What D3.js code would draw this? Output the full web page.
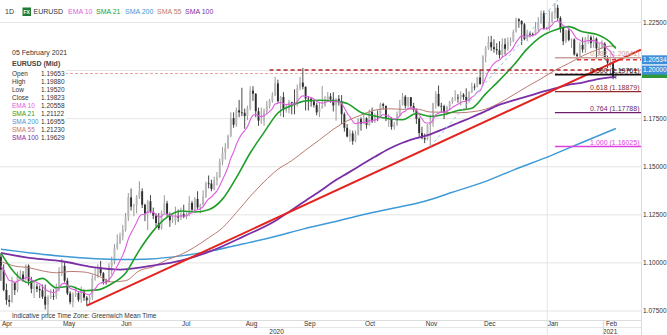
<!DOCTYPE html>
<html><head><meta charset="utf-8">
<script src="https://cdn.jsdelivr.net/npm/d3@7"></script>
<style>
html,body{margin:0;padding:0;background:#fff;}
svg{display:block;font-family:"Liberation Sans",Arial,sans-serif;}
</style>
</head><body>
<svg id="chart" width="667" height="335"></svg>
<script>
// ---------- DATA (EURUSD daily) ----------
const firstDay = "2020-04-01", lastDay = "2021-02-05";
const opens = [
1.1030,1.0962,1.0857,1.0805,1.0795,1.0893,1.0856,1.0935,1.0937,1.0913,1.0983,1.0904,1.0863,1.0875,1.0862,1.0855,1.0822,1.0780,1.0819,1.0826,1.0823,1.0873,
1.0954,1.0982,1.0905,1.0839,1.0794,1.0833,1.0840,1.0806,1.0848,1.0817,1.0803,1.0819,1.0920,1.0923,1.0975,1.0944,1.0901,1.0899,1.0981,1.1003,1.1076,
1.1100,1.1135,1.1170,1.1237,1.1338,1.1290,1.1296,1.1341,1.1370,1.1300,1.1255,1.1318,1.1263,1.1243,1.1205,1.1178,1.1258,1.1307,1.1250,1.1219,1.1220,1.1241,
1.1233,1.1251,1.1239,1.1246,1.1309,1.1274,1.1330,1.1286,1.1300,1.1343,1.1411,1.1410,1.1382,1.1428,1.1442,1.1524,1.1571,1.1596,1.1657,1.1750,1.1716,1.1791,1.1780,
1.1778,1.1761,1.1801,1.1893,1.1877,1.1786,1.1737,1.1737,1.1786,1.1813,1.1842,1.1869,1.1931,1.1838,1.1860,1.1795,1.1795,1.1833,1.1831,1.1819,1.1906,
1.1935,1.1913,1.1852,1.1851,1.1837,1.1818,1.1780,1.1802,1.1813,1.1846,1.1863,1.1847,1.1816,1.1850,1.1839,1.1771,1.1700,1.1655,1.1671,1.1631,1.1665,1.1745,
1.1720,1.1749,1.1715,1.1783,1.1734,1.1761,1.1759,1.1823,1.1814,1.1745,1.1746,1.1705,1.1717,1.1769,1.1820,1.1862,1.1815,1.1859,1.1813,1.1794,1.1747,1.1673,
1.1646,1.1640,1.1715,1.1723,1.1826,1.1876,1.1814,1.1812,1.1777,1.1809,1.1834,1.1853,1.1857,1.1855,1.1872,1.1860,1.1842,1.1886,1.1914,1.1913,1.1962,
1.1927,1.2071,1.2113,1.2145,1.2119,1.2109,1.2103,1.2079,1.2134,1.2111,1.2146,1.2152,1.2199,1.2264,1.2255,1.2238,1.2161,1.2189,1.2187,1.2183,1.2214,1.2248,1.2296,
1.2215,1.2215,1.2251,1.2297,1.2324,1.2271,1.2219,1.2150,1.2206,1.2157,1.2159,1.2081,1.2073,1.2131,1.2107,1.2164,1.2171,1.2140,1.2163,1.2113,1.2120,
1.2137,1.2060,1.2038,1.2038,1.19653];
const highs = [
1.1047,1.0990,1.0890,1.0830,1.0925,1.0900,1.0952,1.0960,1.0955,1.0990,1.0990,1.0925,1.0900,1.0890,1.0880,1.0885,1.0885,1.0830,1.0860,1.0860,1.0890,1.0975,
1.1019,1.1000,1.0920,1.0850,1.0845,1.0875,1.0850,1.0875,1.0860,1.0825,1.0830,1.0935,1.0975,1.0990,1.1008,1.0950,1.0915,1.0995,1.1030,1.1095,1.1146,
1.1155,1.1195,1.1257,1.1361,1.1384,1.1305,1.1350,1.1422,1.1385,1.1305,1.1325,1.1350,1.1285,1.1255,1.1257,1.1270,1.1349,1.1320,1.1260,1.1245,1.1290,1.1275,
1.1285,1.1300,1.1260,1.1345,1.1320,1.1340,1.1370,1.1305,1.1375,1.1420,1.1452,1.1430,1.1445,1.1470,1.1540,1.1600,1.1620,1.1665,1.1780,1.1780,1.1805,1.1845,1.1908,
1.1800,1.1815,1.1915,1.1916,1.1880,1.1805,1.1805,1.1800,1.1840,1.1850,1.1885,1.1965,1.1950,1.1865,1.1885,1.1820,1.1845,1.1835,1.1900,1.1925,1.1965,
1.2011,1.1915,1.1865,1.1860,1.1845,1.1830,1.1830,1.1917,1.1865,1.1885,1.1880,1.1885,1.1855,1.1870,1.1870,1.1780,1.1720,1.1690,1.1685,1.1685,1.1750,1.1755,
1.1770,1.1755,1.1795,1.1805,1.1775,1.1790,1.1830,1.1830,1.1815,1.1770,1.1755,1.1730,1.1785,1.1845,1.1881,1.1870,1.1860,1.1860,1.1830,1.1800,1.1755,1.1705,
1.1670,1.1720,1.1770,1.1830,1.1890,1.1920,1.1830,1.1820,1.1815,1.1840,1.1860,1.1895,1.1875,1.1890,1.1880,1.1905,1.1890,1.1935,1.1930,1.1965,1.2003,
1.2077,1.2125,1.2176,1.2178,1.2160,1.2140,1.2150,1.2165,1.2165,1.2170,1.2170,1.2210,1.2273,1.2270,1.2260,1.2245,1.2210,1.2200,1.2195,1.2250,1.2275,1.2310,1.2310,
1.2225,1.2310,1.2305,1.2349,1.2340,1.2280,1.2225,1.2210,1.2220,1.2165,1.2165,1.2090,1.2145,1.2170,1.2172,1.2185,1.2180,1.2180,1.2170,1.2140,1.2155,
1.2145,1.2075,1.2060,1.2045,1.1988];
const lows = [
1.0904,1.0850,1.0780,1.0769,1.0790,1.0830,1.0845,1.0915,1.0900,1.0905,1.0880,1.0840,1.0815,1.0845,1.0815,1.0810,1.0755,1.0727,1.0810,1.0805,1.0810,1.0850,
1.0930,1.0895,1.0830,1.0782,1.0767,1.0820,1.0795,1.0790,1.0800,1.0775,1.0780,1.0805,1.0905,1.0920,1.0930,1.0885,1.0885,1.0895,1.0935,1.0990,1.1065,
1.1095,1.1115,1.1160,1.1215,1.1270,1.1240,1.1255,1.1330,1.1283,1.1215,1.1168,1.1255,1.1225,1.1185,1.1168,1.1170,1.1255,1.1235,1.1185,1.1205,1.1195,1.1210,
1.1220,1.1230,1.1225,1.1240,1.1260,1.1265,1.1275,1.1255,1.1295,1.1335,1.1385,1.1370,1.1375,1.1400,1.1440,1.1505,1.1535,1.1590,1.1650,1.1700,1.1705,1.1755,1.1760,
1.1695,1.1740,1.1790,1.1840,1.1755,1.1710,1.1720,1.1710,1.1770,1.1800,1.1830,1.1865,1.1830,1.1760,1.1755,1.1780,1.1775,1.1770,1.1770,1.1810,1.1895,
1.1900,1.1790,1.1790,1.1810,1.1805,1.1765,1.1755,1.1800,1.1810,1.1835,1.1830,1.1785,1.1737,1.1815,1.1720,1.1680,1.1650,1.1627,1.1612,1.1625,1.1660,1.1685,
1.1720,1.1695,1.1710,1.1725,1.1725,1.1735,1.1755,1.1795,1.1735,1.1705,1.1690,1.1690,1.1710,1.1760,1.1815,1.1800,1.1805,1.1800,1.1780,1.1720,1.1650,1.1640,
1.1620,1.1635,1.1603,1.1705,1.1800,1.1810,1.1780,1.1745,1.1765,1.1795,1.1825,1.1840,1.1830,1.1815,1.1845,1.1800,1.1830,1.1880,1.1895,1.1910,1.1925,
1.1925,1.2040,1.2105,1.2100,1.2090,1.2080,1.2060,1.2065,1.2080,1.2100,1.2125,1.2145,1.2195,1.2220,1.2130,1.2155,1.2150,1.2170,1.2175,1.2180,1.2200,1.2240,1.2210,
1.2210,1.2205,1.2245,1.2265,1.2255,1.2195,1.2130,1.2140,1.2150,1.2115,1.2075,1.2055,1.2065,1.2090,1.2090,1.2135,1.2115,1.2115,1.2060,1.2080,1.2110,
1.2055,1.2010,1.2015,1.1952,1.1952];
const closes = [
1.0962,1.0857,1.0805,1.0795,1.0893,1.0856,1.0935,1.0937,1.0913,1.0983,1.0904,1.0863,1.0875,1.0862,1.0855,1.0822,1.0780,1.0819,1.0826,1.0823,1.0873,1.0954,
1.0982,1.0905,1.0839,1.0794,1.0833,1.0840,1.0806,1.0848,1.0817,1.0803,1.0819,1.0920,1.0923,1.0975,1.0944,1.0901,1.0899,1.0981,1.1003,1.1076,1.1100,
1.1135,1.1170,1.1237,1.1338,1.1290,1.1296,1.1341,1.1370,1.1300,1.1255,1.1318,1.1263,1.1243,1.1205,1.1178,1.1258,1.1307,1.1250,1.1219,1.1220,1.1241,1.1233,
1.1251,1.1239,1.1246,1.1309,1.1274,1.1330,1.1286,1.1300,1.1343,1.1411,1.1410,1.1382,1.1428,1.1442,1.1524,1.1571,1.1596,1.1657,1.1750,1.1716,1.1791,1.1780,1.1778,
1.1761,1.1801,1.1893,1.1877,1.1786,1.1737,1.1737,1.1786,1.1813,1.1842,1.1869,1.1931,1.1838,1.1860,1.1795,1.1795,1.1833,1.1831,1.1819,1.1906,1.1935,
1.1913,1.1852,1.1851,1.1837,1.1818,1.1780,1.1802,1.1813,1.1846,1.1863,1.1847,1.1816,1.1850,1.1839,1.1771,1.1700,1.1655,1.1671,1.1631,1.1665,1.1745,1.1720,
1.1749,1.1715,1.1783,1.1734,1.1761,1.1759,1.1823,1.1814,1.1745,1.1746,1.1705,1.1717,1.1769,1.1820,1.1862,1.1815,1.1859,1.1813,1.1794,1.1747,1.1673,1.1646,
1.1640,1.1715,1.1723,1.1826,1.1876,1.1814,1.1812,1.1777,1.1809,1.1834,1.1853,1.1857,1.1855,1.1872,1.1860,1.1842,1.1886,1.1914,1.1913,1.1962,1.1927,
1.2071,1.2113,1.2145,1.2119,1.2109,1.2103,1.2079,1.2134,1.2111,1.2146,1.2152,1.2199,1.2264,1.2255,1.2238,1.2161,1.2189,1.2187,1.2183,1.2214,1.2248,1.2296,1.2215,
1.2215,1.2251,1.2297,1.2324,1.2271,1.2219,1.2150,1.2206,1.2157,1.2159,1.2081,1.2073,1.2131,1.2107,1.2164,1.2171,1.2140,1.2163,1.2113,1.2120,1.2137,
1.2060,1.2038,1.2038,1.1964,1.19823];

// indicator lines: [trading-day index, value]
const ema10 = [1.0982,1.0959,1.0931,1.0906,1.0904,1.0895,1.0902,1.0909,1.0910,1.0923,1.0920,1.0909,1.0903,1.0896,1.0888,1.0876,1.0859,1.0851,1.0847,1.0843,1.0848,1.0867,
1.0888,1.0891,1.0882,1.0866,1.0860,1.0856,1.0847,1.0847,1.0842,1.0835,1.0832,1.0848,1.0862,1.0882,1.0893,1.0895,1.0896,1.0911,1.0928,1.0955,1.0981,
1.1009,1.1038,1.1075,1.1122,1.1153,1.1179,1.1208,1.1238,1.1249,1.1250,1.1263,1.1263,1.1259,1.1249,1.1236,1.1240,1.1252,1.1252,1.1246,1.1241,1.1241,1.1240,
1.1242,1.1241,1.1242,1.1254,1.1258,1.1271,1.1274,1.1279,1.1290,1.1312,1.1330,1.1340,1.1356,1.1371,1.1399,1.1430,1.1461,1.1496,1.1542,1.1574,1.1613,1.1644,1.1668,
1.1685,1.1706,1.1740,1.1765,1.1769,1.1763,1.1758,1.1763,1.1772,1.1785,1.1800,1.1824,1.1827,1.1833,1.1826,1.1820,1.1823,1.1824,1.1823,1.1838,1.1856,
1.1866,1.1864,1.1861,1.1857,1.1850,1.1837,1.1831,1.1828,1.1831,1.1837,1.1839,1.1835,1.1837,1.1838,1.1826,1.1803,1.1776,1.1757,1.1734,1.1721,1.1726,1.1725,
1.1729,1.1727,1.1737,1.1736,1.1741,1.1744,1.1758,1.1769,1.1764,1.1761,1.1751,1.1745,1.1749,1.1762,1.1780,1.1786,1.1800,1.1802,1.1801,1.1791,1.1769,1.1747,
1.1728,1.1725,1.1725,1.1743,1.1767,1.1776,1.1782,1.1781,1.1786,1.1795,1.1806,1.1815,1.1822,1.1831,1.1837,1.1838,1.1846,1.1859,1.1869,1.1886,1.1893,
1.1925,1.1960,1.1993,1.2016,1.2033,1.2046,1.2052,1.2067,1.2075,1.2088,1.2099,1.2118,1.2144,1.2164,1.2178,1.2175,1.2177,1.2179,1.2180,1.2186,1.2197,1.2215,1.2215,
1.2215,1.2222,1.2235,1.2252,1.2255,1.2249,1.2231,1.2226,1.2214,1.2204,1.2181,1.2162,1.2156,1.2147,1.2150,1.2154,1.2152,1.2154,1.2146,1.2141,1.2141,
1.2126,1.2110,1.2097,1.2073,1.2056];
const sma21 = [[0,1.1049],[5,1.0945],[10,1.0894],[15,1.0917],[20,1.0868],[25,1.0876],[30,1.0853],[35,1.0857],[40,1.0889],[45,1.0944],
[50,1.1064],[55,1.1164],[60,1.1235],[65,1.1267],[70,1.1262],[75,1.1274],[80,1.1329],[85,1.1441],[90,1.1569],[95,1.1676],[100,1.1777],
[105,1.1816],[110,1.1840],[115,1.1843],[120,1.1840],[125,1.1826],[130,1.1780],[135,1.1761],[140,1.1747],[145,1.1742],[150,1.1774],
[155,1.1759],[160,1.1769],[165,1.1790],[170,1.1802],[175,1.1876],[180,1.1948],[185,1.2024],[190,1.2110],[195,1.2174],[200,1.2208],
[205,1.2226],[210,1.2199],[215,1.2186],[220,1.2144],[222,1.2112]];
const sma55 = [[0,1.1005],[5,1.0981],[10,1.0973],[15,1.0956],[20,1.0946],[25,1.0953],[30,1.0950],[35,1.0931],[40,1.0899],[45,1.0905],
[50,1.0957],[55,1.0978],[60,1.1014],[65,1.1041],[70,1.1080],[75,1.1128],[80,1.1180],[85,1.1259],[90,1.1343],[95,1.1419],[100,1.1484],
[105,1.1529],[110,1.1584],[115,1.1637],[120,1.1692],[125,1.1736],[130,1.1766],[135,1.1792],[140,1.1799],[145,1.1796],[150,1.1798],
[155,1.1782],[160,1.1781],[165,1.1778],[170,1.1783],[175,1.1797],[180,1.1829],[185,1.1871],[190,1.1914],[195,1.1955],[200,1.1999],
[205,1.2035],[210,1.2074],[215,1.2104],[220,1.2125],[222,1.2123]];
const sma100 = [[0,1.1050],[11,1.1022],[22,1.1006],[33,1.0976],[43,1.0963],[54,1.0982],[65,1.1009],[76,1.1060],[88,1.1138],[99,1.1215],
[105,1.1273],[110,1.1321],[115,1.1369],[120,1.1419],[125,1.1463],[130,1.1506],[135,1.1549],[140,1.1590],[145,1.1622],[150,1.1646],
[155,1.1666],[160,1.1695],[165,1.1725],[170,1.1755],[175,1.1787],[180,1.1820],[185,1.1842],[190,1.1863],[195,1.1885],[200,1.1905],
[205,1.1924],[210,1.1935],[215,1.1952],[220,1.1962],[222,1.1963]];
const sma200 = [[0,1.1068],[22,1.1032],[43,1.1015],[54,1.1018],[65,1.1034],[76,1.1060],[88,1.1098],[99,1.1135],[109,1.1173],[120,1.1210],
[131,1.1249],[142,1.1283],[153,1.1318],[163,1.1365],[174,1.1416],[185,1.1480],[199,1.1558],[210,1.1625],[222,1.1696]];

// drawn objects
const trendRed = [[31,1.0775],[155,1.1600]];
const trendBlue = [[155,1.1603],[201,1.2364]];
const fibStart = 200;
const fibLevels = [["0.382",1.20641],["0.500",1.19761],["0.618",1.18879],["0.764",1.17788],["1.000",1.16025]];
const hLines = [{v:1.20534,from:208},{v:1.20000,from:97}];
const lastPrice = 1.19823;
const priceTicks = [1.075,1.1,1.125,1.15,1.175,1.2,1.225];
const labelTicks = [1.075,1.1,1.125,1.15,1.175,1.225];   // 1.20000 is shown in its box
const legendNames = ["EMA 10","SMA 21","SMA 200","SMA 55","SMA 100"];
const infoRows = [["Open","1.19653"],["High","1.19880"],["Low","1.19520"],["Close","1.19823"],
  ["EMA 10","1.20558"],["SMA 21","1.21122"],["SMA 200","1.16955"],["SMA 55","1.21230"],["SMA 100","1.19629"]];

// ---------- STYLE ----------
const C = {ema10:"#e05ce0", sma21:"#1f9e2a", sma200:"#3d9ad6", sma55:"#b97a72", sma100:"#7a2fa6",
  grid:"#e4e4e4", text:"#333", red:"#e3241e"};
const fibColors = {"0.382":"#c9a19c","0.500":"#111111","0.618":"#8e2a2a","0.764":"#6b1f6e","1.000":"#e03fe0"};
const legendColors = [C.ema10,C.sma21,C.sma200,C.sma55,C.sma100];

const W=667, H=335, plotR=641, plotB=319;
const svg = d3.select("#chart");
const days = d3.timeDay.range(new Date(firstDay+"T00:00"), d3.timeDay.offset(new Date(lastDay+"T00:00"),1))
  .filter(d => d.getDay()!==0 && d.getDay()!==6);
const x = d3.scaleLinear().domain([0, days.length-1]).range([0.9, 0.9+2.77*(days.length-1)]);
const y = d3.scaleLinear().domain([1.075,1.225]).range([310.5,22]);

svg.append("defs").append("clipPath").attr("id","plot").append("rect")
  .attr("x",0).attr("y",0).attr("width",plotR).attr("height",plotB);

// grid
svg.append("g").attr("class","grid")
  .call(d3.axisRight(y).tickValues(priceTicks).tickSize(plotR).tickFormat(""))
  .call(g=>g.select(".domain").remove())
  .call(g=>g.selectAll("line").attr("stroke",C.grid));

// month separators
const monthStarts = days.map((d,i)=>i).filter(i=> i===0 || days[i].getMonth()!==days[i-1].getMonth());
const janIdx = monthStarts.find(i=>days[i].getMonth()===0);
svg.append("line").attr("x1",x(janIdx-0.5)+2).attr("x2",x(janIdx-0.5)+2).attr("y1",0).attr("y2",H)
  .attr("stroke",C.grid);
svg.append("line").attr("x1",plotR+0.5).attr("x2",plotR+0.5).attr("y1",0).attr("y2",H).attr("stroke","#dcdcdc");

const plot = svg.append("g").attr("clip-path","url(#plot)");

// current price dashed line
plot.append("line").attr("x1",0).attr("x2",plotR).attr("y1",y(lastPrice)).attr("y2",y(lastPrice))
  .attr("stroke","#e6a3a3").attr("stroke-width",1).attr("stroke-dasharray","3,2");

// candles
const idx = d3.range(closes.length);
const cw = 1.9;
const cg = plot.append("g");
cg.selectAll("line.wick").data(idx).join("line")
  .attr("x1",i=>x(i)).attr("x2",i=>x(i)).attr("y1",i=>y(highs[i])).attr("y2",i=>y(lows[i]))
  .attr("stroke",i=>closes[i]>=opens[i]?"#8c8c8c":"#333").attr("stroke-width",0.9);
cg.selectAll("rect").data(idx).join("rect")
  .attr("x",i=>x(i)-cw/2).attr("width",cw)
  .attr("y",i=>y(Math.max(opens[i],closes[i])))
  .attr("height",i=>Math.max(0.8, Math.abs(y(opens[i])-y(closes[i]))))
  .attr("fill",i=>closes[i]>=opens[i]?"#b8b8b8":"#2e2e2e");

// moving averages
const lineFn = d3.line().x(d=>x(d[0])).y(d=>y(d[1])).curve(d3.curveMonotoneX);
function drawMA(data,color,w){ plot.append("path").attr("d",lineFn(data)).attr("fill","none")
  .attr("stroke",color).attr("stroke-width",w).attr("stroke-linejoin","round"); }
drawMA(sma200,C.sma200,1.5);
drawMA(sma55,C.sma55,1);
drawMA(sma100,C.sma100,1.8);
drawMA(sma21,C.sma21,1.6);
drawMA(ema10.map((v,i)=>[i,v]),C.ema10,1.1);

// horizontal dashed levels
plot.append("line").attr("x1",x(hLines[1].from)).attr("x2",plotR).attr("y1",y(hLines[1].v)).attr("y2",y(hLines[1].v))
  .attr("stroke","#b3202a").attr("stroke-width",1.5).attr("stroke-dasharray","4,3");
plot.append("line").attr("x1",x(hLines[0].from)).attr("x2",plotR).attr("y1",y(hLines[0].v)).attr("y2",y(hLines[0].v))
  .attr("stroke","#e03030").attr("stroke-width",1.5).attr("stroke-dasharray","4,3");

// trend lines (extended to the right edge)
function extend(p, toIdx){ const s=(p[1][1]-p[0][1])/(p[1][0]-p[0][0]); return [p[0],[toIdx, p[0][1]+s*(toIdx-p[0][0])]]; }
const rightIdx = x.invert(plotR);
const tr = extend(trendRed, rightIdx);
plot.append("line").attr("x1",x(tr[0][0])).attr("y1",y(tr[0][1])).attr("x2",x(tr[1][0])).attr("y2",y(tr[1][1]))
  .attr("stroke",C.red).attr("stroke-width",2);
plot.append("line").attr("x1",x(trendBlue[0][0])).attr("y1",y(trendBlue[0][1])).attr("x2",x(trendBlue[1][0])).attr("y2",y(trendBlue[1][1]))
  .attr("stroke","#8fc3ea").attr("stroke-width",1).attr("stroke-dasharray","3,3");

// fibonacci
const fg = svg.append("g");
fibLevels.forEach(([lab,v])=>{
  const col = fibColors[lab];
  fg.append("line").attr("x1",x(fibStart)).attr("x2",plotR).attr("y1",y(v)).attr("y2",y(v))
    .attr("stroke",col).attr("stroke-width", lab==="0.500"?1.8:1.4);
  fg.append("text").attr("x",plotR-1.5).attr("y",y(v)-2).attr("text-anchor","end")
    .attr("font-size",7).attr("fill",col).text(`${lab} (${v.toFixed(5)})`);
});

// right axis labels
svg.append("g").attr("transform",`translate(${plotR},0)`)
  .call(d3.axisRight(y).tickValues(labelTicks).tickSize(0).tickPadding(2).tickFormat(d3.format(".5f")))
  .call(g=>g.select(".domain").remove())
  .call(g=>g.selectAll("text").attr("font-size",6.5).attr("fill",C.text).attr("font-family","Liberation Sans, Arial"));

// price boxes
function priceBox(v, fill, withText){
  const g = svg.append("g");
  g.append("rect").attr("x",plotR+1).attr("y",y(v)-4.5).attr("width",W-plotR-1).attr("height",9).attr("fill",fill);
  if (withText) g.append("text").attr("x",plotR+2).attr("y",y(v)+2.3).attr("font-size",6.5).attr("fill","#fff").text(v.toFixed(5));
}
priceBox(lastPrice,"#2e9a3c",false);
priceBox(hLines[1].v,"#3f8fd8",true);
priceBox(hLines[0].v,"#3f8fd8",true);

// x axis band
const band = svg.append("g");
band.append("line").attr("x1",0).attr("x2",plotR).attr("y1",320.5).attr("y2",320.5).attr("stroke","#dcdcdc");
band.append("line").attr("x1",0).attr("x2",plotR).attr("y1",327.5).attr("y2",327.5).attr("stroke","#e6e6e6");
const fmtMonth = d3.timeFormat("%b");
band.selectAll("text.m").data(monthStarts).join("text").attr("class","m")
  .attr("x",i=>Math.max(2, x(i-0.5)+2.5)).attr("y",326).attr("font-size",6.5).attr("fill",C.text)
  .text(i=>fmtMonth(days[i]));
const sepJan = x(janIdx-0.5)+2;
band.append("text").attr("x",sepJan/2+3).attr("y",334).attr("text-anchor","middle").attr("font-size",6.5).attr("fill",C.text).text(days[0].getFullYear());
band.append("text").attr("x",(sepJan+W)/2+3).attr("y",334).attr("text-anchor","middle").attr("font-size",6.5).attr("fill",C.text).text(days[janIdx].getFullYear());
band.append("line").attr("x1",x(monthStarts[monthStarts.length-1]-0.5)).attr("x2",x(monthStarts[monthStarts.length-1]-0.5))
  .attr("y1",320.5).attr("y2",335).attr("stroke","#dcdcdc");

svg.append("text").attr("x",12).attr("y",317.5).attr("font-size",6.5).attr("fill",C.text).text("Indicative price");
svg.append("text").attr("x",57).attr("y",317.5).attr("font-size",6.5).attr("fill",C.text).text("Time Zone: Greenwich Mean Time");

// header legend
const hdr = svg.append("g");
hdr.append("text").attr("x",5).attr("y",14).attr("font-size",7).attr("fill",C.text).text("1D");
hdr.append("rect").attr("x",22.5).attr("y",7.5).attr("width",8.5).attr("height",8.5).attr("fill","#1f7a32");
hdr.append("text").attr("x",26.75).attr("y",14).attr("text-anchor","middle").attr("font-size",5).attr("font-weight","bold").attr("fill","#fff").text("FX");
hdr.append("text").attr("x",33.5).attr("y",14).attr("font-size",7).attr("fill",C.text).text("EURUSD");
const legX = [68,96,125,157,185];
legendNames.forEach((n,i)=> hdr.append("text").attr("x",legX[i]).attr("y",14).attr("font-size",7).attr("fill",legendColors[i]).text(n));

// info panel
const info = svg.append("g");
info.append("rect").attr("x",0).attr("y",44).attr("width",66).attr("height",98).attr("fill","#fff");
info.append("text").attr("x",12).attr("y",54.5).attr("font-size",7).attr("fill",C.text).text("05 February 2021");
info.append("text").attr("x",12).attr("y",65.5).attr("font-size",7).attr("font-weight","bold").attr("fill","#444").text("EURUSD (Mid)");
const rowColors = {"EMA 10":C.ema10,"SMA 21":C.sma21,"SMA 200":C.sma200,"SMA 55":C.sma55,"SMA 100":C.sma100};
infoRows.forEach(([k,v],i)=>{
  info.append("text").attr("x",12).attr("y",75.5+i*8).attr("font-size",6.5).attr("fill",rowColors[k]||C.text).text(k);
  info.append("text").attr("x",41).attr("y",75.5+i*8).attr("font-size",6.5).attr("fill",C.text).text(v);
});
</script>
</body></html>
